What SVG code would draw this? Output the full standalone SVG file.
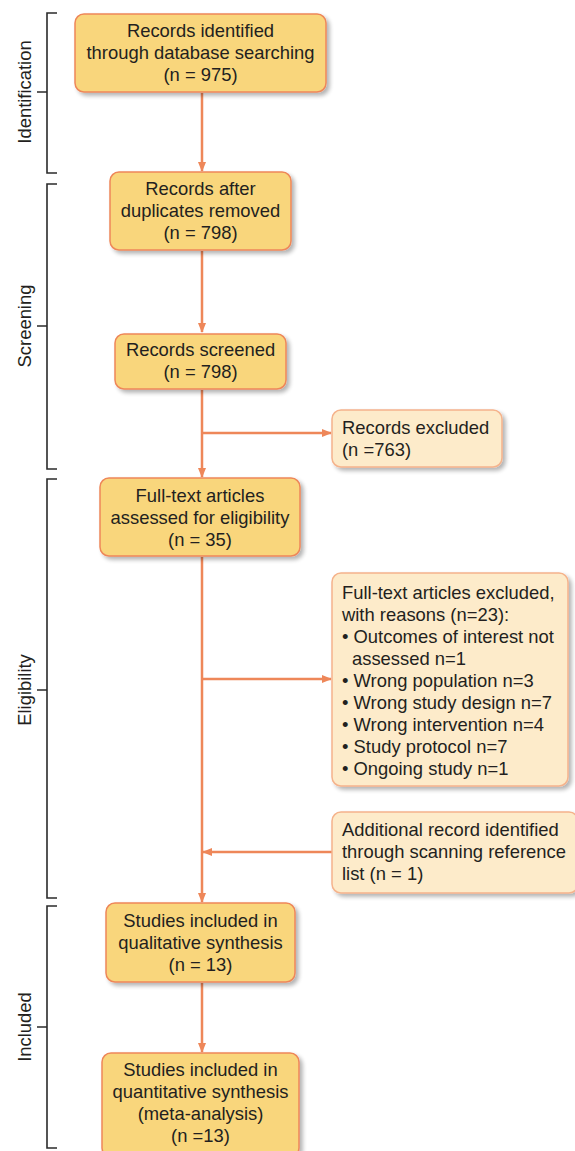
<svg xmlns="http://www.w3.org/2000/svg" width="575" height="1151" viewBox="0 0 575 1151">
<defs>
<filter id="sh" x="-10%" y="-10%" width="130%" height="130%">
<feGaussianBlur in="SourceAlpha" stdDeviation="2"/>
<feOffset dx="3" dy="3" result="o"/>
<feComponentTransfer><feFuncA type="linear" slope="0.3"/></feComponentTransfer>
<feMerge><feMergeNode/><feMergeNode in="SourceGraphic"/></feMerge>
</filter>
<marker id="ah" markerWidth="10" markerHeight="8" refX="9" refY="4" orient="auto" markerUnits="userSpaceOnUse">
<path d="M0,0 L10,4 L0,8 Z" fill="#EE8759"/>
</marker>
</defs>
<style>
.main{fill:#F9D67C;stroke:#EE8759;stroke-width:1.5;filter:url(#sh)}
.side{fill:#FDEBCA;stroke:#F5B38C;stroke-width:1.5;filter:url(#sh)}
.t{font-family:"Liberation Sans",Arial,sans-serif;font-size:18.4px;fill:#231F20}
.c{text-anchor:middle}
.con{stroke:#EE8759;stroke-width:2.5;fill:none}
.br{stroke:#2b2b2b;stroke-width:1.6;fill:none}
</style>
<rect width="575" height="1151" fill="#fff"/>
<g id="phases">
<path class="br" d="M57,13 H47 V173 H57 M37,92 H47"/>
<path class="br" d="M57,184 H47 V469 H57 M37,326 H47"/>
<path class="br" d="M57,479 H47 V898 H57 M37,690 H47"/>
<path class="br" d="M57,906 H47 V1148 H57 M37,1027 H47"/>
<text class="t c" transform="translate(31,92) rotate(-90)">Identification</text>
<text class="t c" transform="translate(31,326) rotate(-90)">Screening</text>
<text class="t c" transform="translate(31,690) rotate(-90)">Eligibility</text>
<text class="t c" transform="translate(31,1027) rotate(-90)">Included</text>
</g>
<g id="connectors">
<line class="con" x1="202" y1="93" x2="202" y2="171" marker-end="url(#ah)"/>
<line class="con" x1="202" y1="251" x2="202" y2="332" marker-end="url(#ah)"/>
<line class="con" x1="202" y1="390" x2="202" y2="477" marker-end="url(#ah)"/>
<line class="con" x1="202" y1="433" x2="331" y2="433" marker-end="url(#ah)"/>
<line class="con" x1="202" y1="557" x2="202" y2="902" marker-end="url(#ah)"/>
<line class="con" x1="202" y1="679" x2="331" y2="679" marker-end="url(#ah)"/>
<line class="con" x1="332" y1="852" x2="203" y2="852" marker-end="url(#ah)"/>
<line class="con" x1="202" y1="983" x2="202" y2="1052" marker-end="url(#ah)"/>
</g>
<g id="n1">
<rect class="main" x="75" y="14" width="251" height="78" rx="9"/>
<text class="t c" x="200.5" y="37">Records identified</text>
<text class="t c" x="200.5" y="59">through database searching</text>
<text class="t c" x="200.5" y="81">(n = 975)</text>
</g>
<g id="n2">
<rect class="main" x="110" y="172" width="181" height="78" rx="9"/>
<text class="t c" x="200.5" y="195">Records after</text>
<text class="t c" x="200.5" y="217">duplicates removed</text>
<text class="t c" x="200.5" y="239">(n = 798)</text>
</g>
<g id="n3">
<rect class="main" x="115" y="334" width="171" height="55" rx="9"/>
<text class="t c" x="200.5" y="356">Records screened</text>
<text class="t c" x="200.5" y="378">(n = 798)</text>
</g>
<g id="n4">
<rect class="side" x="332" y="410" width="170" height="57" rx="9"/>
<text class="t" x="342" y="434">Records excluded</text>
<text class="t" x="342" y="456">(n =763)</text>
</g>
<g id="n5">
<rect class="main" x="100" y="478" width="200" height="78" rx="9"/>
<text class="t c" x="200" y="502">Full-text articles</text>
<text class="t c" x="200" y="524">assessed for eligibility</text>
<text class="t c" x="200" y="546">(n = 35)</text>
</g>
<g id="n6">
<rect class="side" x="332" y="573" width="236" height="213" rx="9"/>
<text class="t" x="342" y="599">Full-text articles excluded,</text>
<text class="t" x="342" y="621">with reasons (n=23):</text>
<text class="t" x="342" y="643">• Outcomes of interest not</text>
<text class="t" x="352" y="665">assessed n=1</text>
<text class="t" x="342" y="687">• Wrong population n=3</text>
<text class="t" x="342" y="709">• Wrong study design n=7</text>
<text class="t" x="342" y="731">• Wrong intervention n=4</text>
<text class="t" x="342" y="753">• Study protocol n=7</text>
<text class="t" x="342" y="775">• Ongoing study n=1</text>
</g>
<g id="n7">
<rect class="side" x="332" y="812" width="246" height="81" rx="9"/>
<text class="t" x="342" y="836">Additional record identified</text>
<text class="t" x="342" y="858">through scanning reference</text>
<text class="t" x="342" y="880">list (n = 1)</text>
</g>
<g id="n8">
<rect class="main" x="106" y="903" width="189" height="79" rx="9"/>
<text class="t c" x="200.5" y="927">Studies included in</text>
<text class="t c" x="200.5" y="949">qualitative synthesis</text>
<text class="t c" x="200.5" y="971">(n = 13)</text>
</g>
<g id="n9">
<rect class="main" x="102" y="1053" width="197" height="104" rx="9"/>
<text class="t c" x="200.5" y="1076">Studies included in</text>
<text class="t c" x="200.5" y="1098">quantitative synthesis</text>
<text class="t c" x="200.5" y="1120">(meta-analysis)</text>
<text class="t c" x="200.5" y="1142">(n =13)</text>
</g>
</svg>
